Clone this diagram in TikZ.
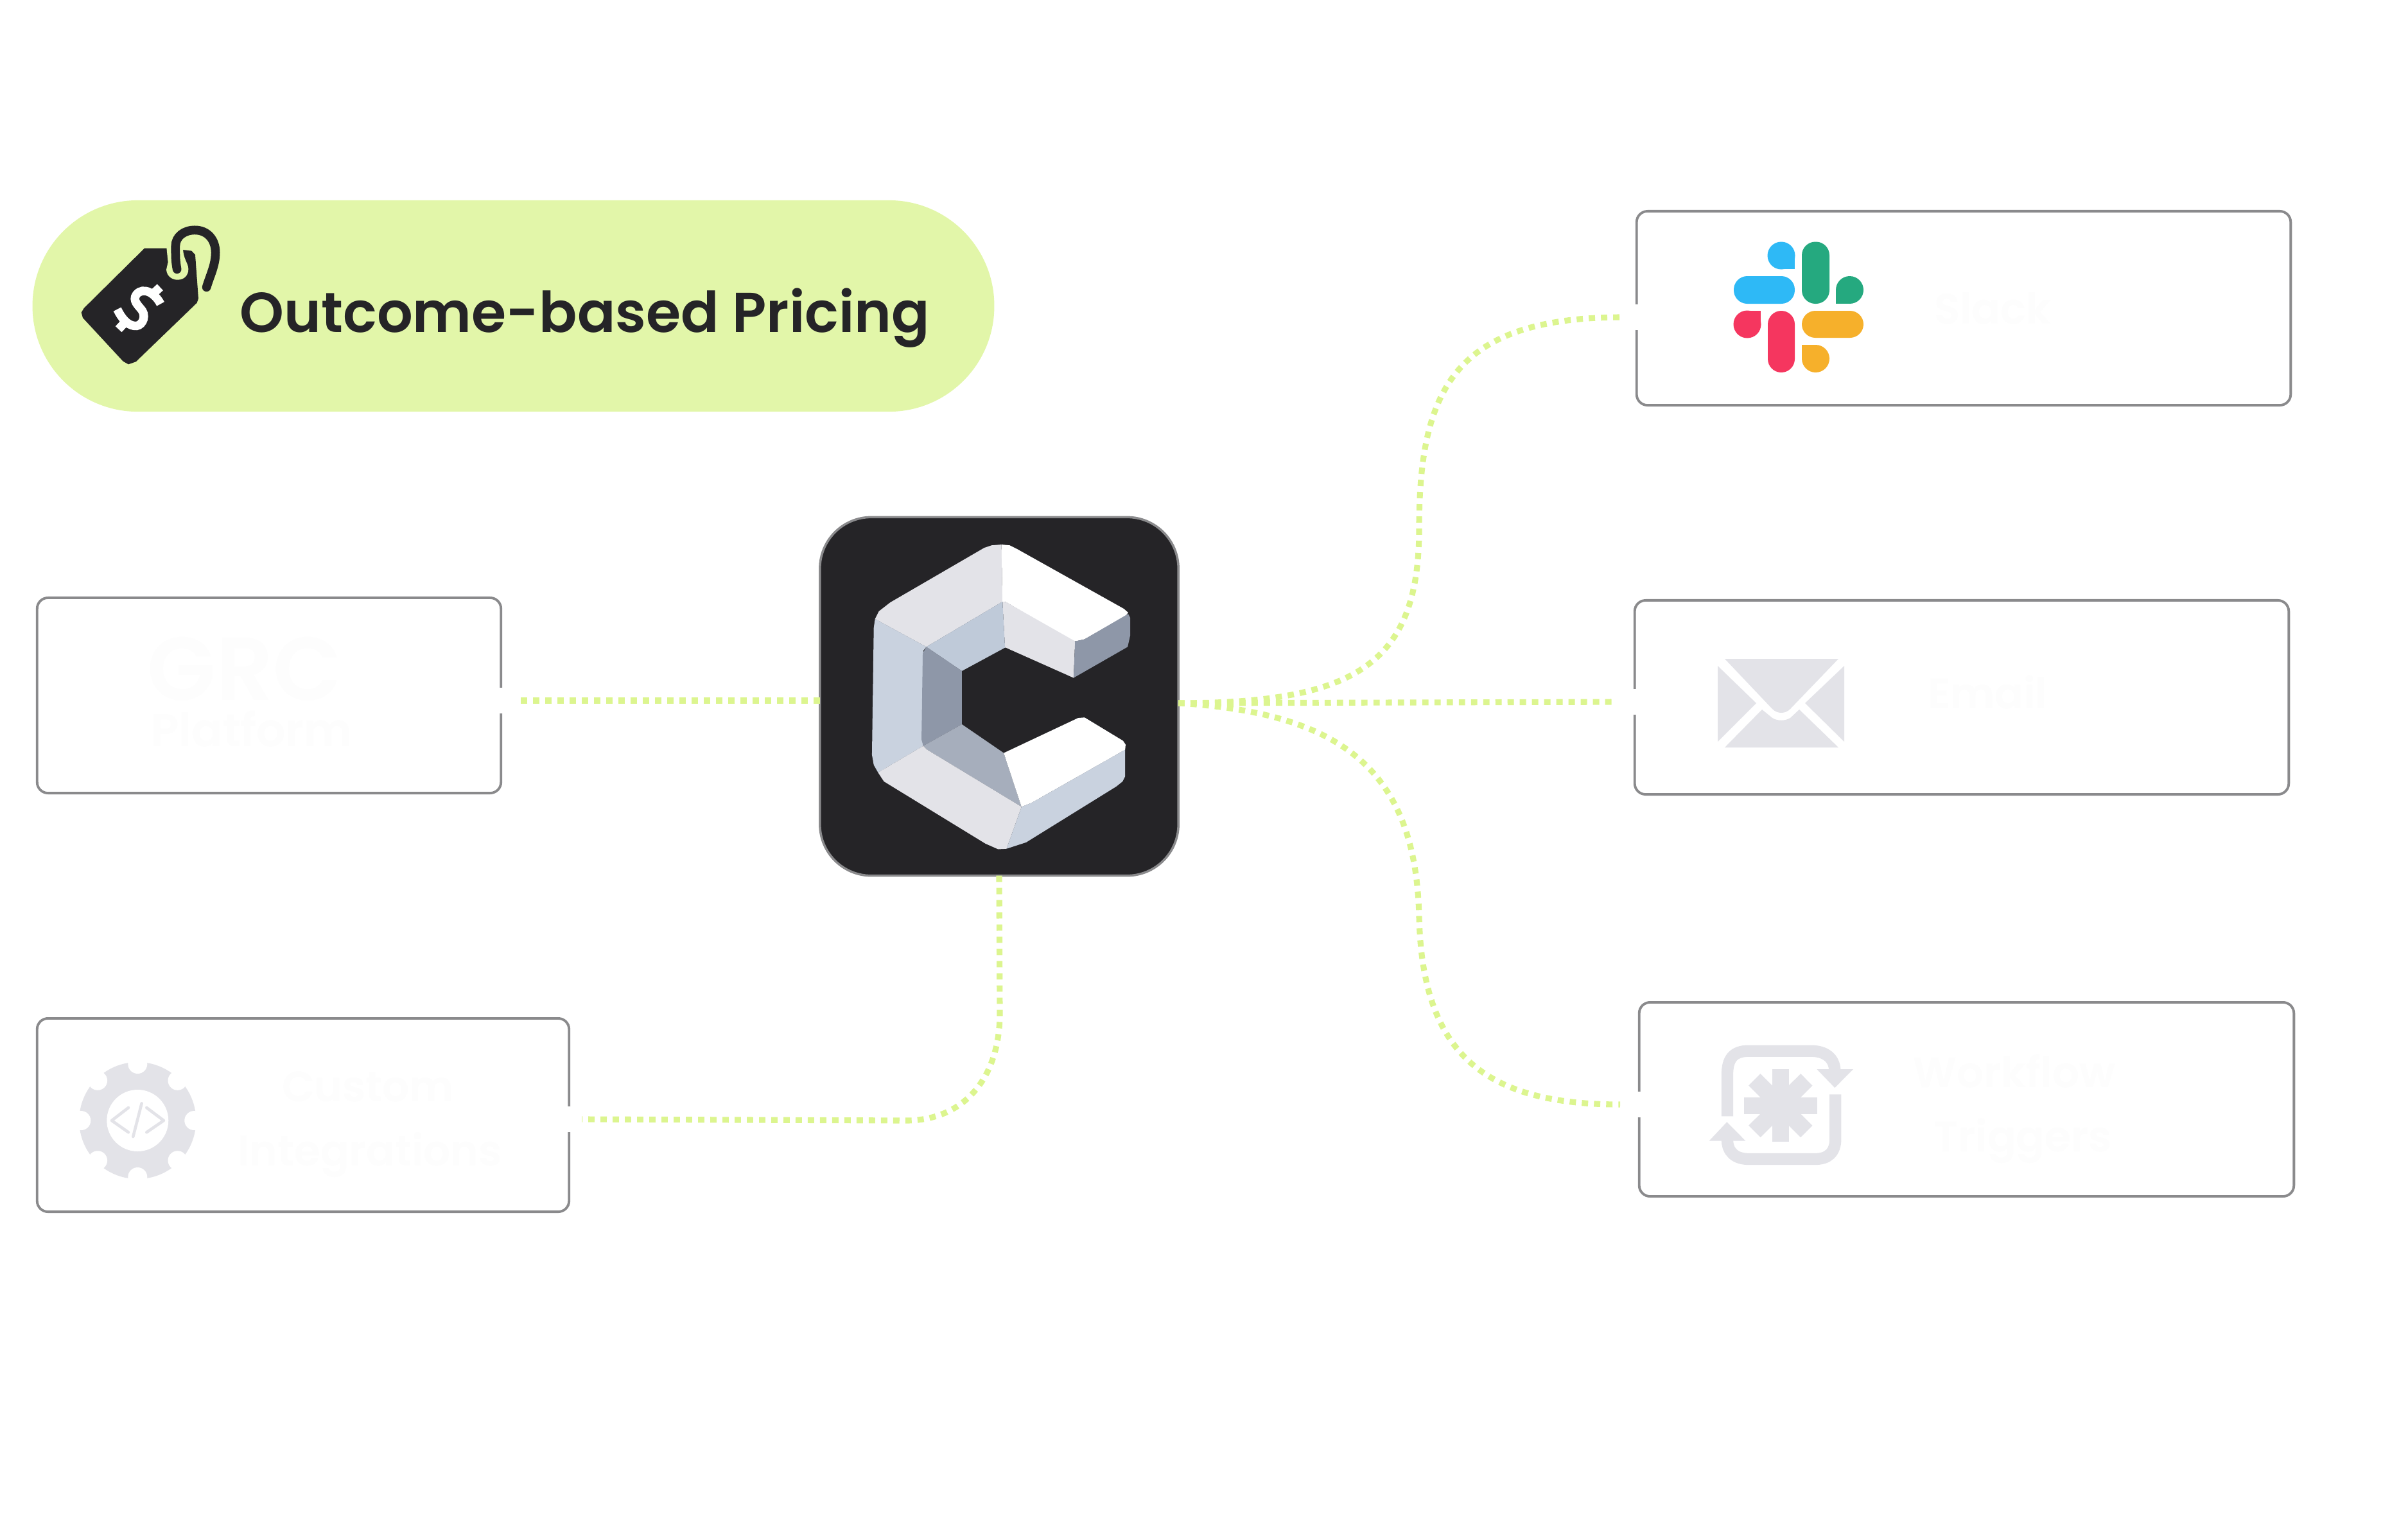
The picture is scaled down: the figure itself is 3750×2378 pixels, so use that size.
\documentclass[tikz,border=0pt]{standalone}
\usepackage{fontspec}
\setmainfont{Poppins}[UprightFont=* Medium,BoldFont=* SemiBold]
\definecolor{pillgreen}{HTML}{E2F6A9}
\definecolor{linkgreen}{HTML}{DCF58F}
\definecolor{inkdark}{HTML}{252427}
\definecolor{panelgray}{HTML}{8A8A8C}
\definecolor{icongray}{HTML}{E3E3E8}
\definecolor{ghosttext}{HTML}{FDFDFD}
\definecolor{logoblue}{HTML}{C9D2DF}
\definecolor{logoblueb}{HTML}{BFCAD9}
\definecolor{logoslate}{HTML}{8E97A8}
\definecolor{logosteel}{HTML}{A6AEBC}
\definecolor{slackblue}{HTML}{2EB9F6}
\definecolor{slackgreen}{HTML}{25A97F}
\definecolor{slackred}{HTML}{F5365F}
\definecolor{slackyellow}{HTML}{F6B02B}
\tikzset{
  panel/.style={draw=panelgray,fill=white,line width=1.1pt,rounded corners=0.17cm,inner sep=0pt,outer sep=0pt},
  port/.style={circle,fill=white,minimum size=0.4cm,inner sep=0pt,outer sep=0pt},
  link/.style={draw=linkgreen,line width=2.6pt,dash pattern=on 2.8pt off 2.6pt},
  bigname/.style={text=ghosttext,anchor=base,inner sep=0pt,font=\bfseries\fontsize{39.5}{40}\selectfont},
  smallname/.style={text=ghosttext,anchor=base,inner sep=0pt,font=\bfseries\fontsize{18.8}{20}\selectfont},
  icon/.style={fill=icongray,draw=none},
  codeline/.style={draw=icongray,line width=1.3pt,line cap=round,line join=round}
}
\begin{document}
\begin{tikzpicture}[x=0.01cm,y=-0.01cm]
        \useasboundingbox (0,0) rectangle (3750,2378);
        \node[fill=pillgreen,rounded corners=1.64cm,minimum width=14.97cm,minimum height=3.29cm,inner sep=0pt] (pricingpill) at (799.5,476.5) {};
        \node[text=inkdark,anchor=base west,inner sep=0pt,font=\bfseries\fontsize{24.9}{26}\selectfont] (pricingtitle) at (373,517) {Outcome-based Pricing};
        \node[fill=inkdark,draw=panelgray,line width=1pt,rounded corners=0.8cm,minimum size=5.58cm,inner sep=0pt,outer sep=0pt] (core) at (1556,1084.5) {};
        \node[panel,minimum width=7.22cm,minimum height=3.04cm] (grcbox) at (419,1083) {};
        \node[panel,minimum width=8.28cm,minimum height=3.01cm] (custombox) at (472,1736.5) {};
        \node[panel,minimum width=10.18cm,minimum height=3.02cm] (slackbox) at (3058,480) {};
        \node[panel,minimum width=10.18cm,minimum height=3.02cm] (emailbox) at (3055,1086) {};
        \node[panel,minimum width=10.19cm,minimum height=3.02cm] (workflowbox) at (3062.5,1712) {};
        \node[port] (grcport) at (780,1091) {};
        \node[port] (customport) at (886,1743) {};
        \node[port] (slackport) at (2549,494) {};
        \node[port] (emailport) at (2546,1093) {};
        \node[port] (workflowport) at (2553,1720) {};
        \node[bigname] (grcname) at (381,1090) {GRC};
        \node[smallname,font=\bfseries\fontsize{20.3}{22}\selectfont] (platformname) at (392,1162) {Platform};
        \node[smallname] (customname) at (573,1715) {Custom};
        \node[smallname] (integrationsname) at (576,1815) {Integrations};
        \node[smallname] (slackname) at (3103,504) {Slack};
        \node[smallname] (emailname) at (3095,1103) {Email};
        \node[smallname] (workflowname) at (3137,1693) {Workflow};
        \node[smallname] (triggersname) at (3150,1793) {Triggers};
        \coordinate (coreleft) at (1277,1091);
        \coordinate (coreright) at (1835,1095);
        \draw[link,shorten >=0.08cm] (coreleft) -- (grcport.east);
        \draw[link] (core.south) -- (1557,1578) .. controls (1557,1680) and (1500,1745) .. (1411,1745) -- (customport.east);
        \draw[link,shorten >=0.1cm] (coreright) -- (emailport.west);
        \draw[link] (coreright) .. controls (2110,1095) and (2210,1035) .. (2210,823) .. controls (2210,600) and (2270,494) .. (slackport.west);
        \draw[link,shorten >=0.1cm] (coreright) .. controls (2090,1110) and (2205,1200) .. (2210,1428) .. controls (2215,1640) and (2310,1720) .. (workflowport.west);
        \begin{scope}[shift={(110,340)},scale=0.3333]
            \fill[inkdark] (345,140)--(448,140)--(525,147)--(565,152)--(582,170)--(597,375)--(590,395)--(305,670)--(270,682)--(245,668)--(57,465)--(50,440)--(62,420)--cycle;
            \fill[pillgreen] (448,135)--(455,205)--(447,240) .. controls (450,275) and (480,288) .. (500,287) .. controls (530,288) and (552,265) .. (550,235) .. controls (548,205) and (525,190) .. (525,135)--cycle;
            \draw[inkdark,line width=3.9pt,line cap=round] (497,238) .. controls (490,200) and (490,180) .. (490,130) .. controls (490,85) and (530,55) .. (580,55) .. controls (640,55) and (677,100) .. (677,160) .. controls (677,220) and (650,270) .. (635,322);
            \draw[white,line width=3.8pt] (420,400) .. controls (395,350) and (340,318) .. (308,355) .. controls (285,385) and (320,410) .. (335,432) .. controls (355,465) and (330,510) .. (295,502) .. controls (265,497) and (240,470) .. (218,425);
            \draw[white,line width=3.8pt] (388,350)--(418,322);
            \draw[white,line width=3.8pt] (252,488)--(224,518);
        \end{scope}
        \begin{scope}[shift={(1250,780)},scale=0.3954]
            \fill[icongray] (783,172)--(745,175)--(715,185)--(345,400)--(300,435)--(285,465)--(487,575)--(787,397)--cycle;
            \fill[white] (783,172)--(815,175)--(845,190)--(1265,425)--(1282,440)--(1270,455)--(1110,545)--(1075,553)--(1050,545)--(800,398)--(787,397)--cycle;
            \fill[icongray] (787,397)--(800,398)--(1073,553)--(1067,697)--(800,578)--(797,578)--cycle;
            \fill[logoslate] (1073,553)--(1110,545)--(1282,445)--(1290,460)--(1290,530)--(1280,575)--(1067,697)--cycle;
            \fill[logoblueb] (487,575)--(787,397)--(797,578)--(627,670)--cycle;
            \fill[logoblue] (285,465)--(487,575)--(475,590)--(470,930)--(475,965)--(297,1070)--(280,1040)--(273,1000)--(280,500)--cycle;
            \fill[logoslate] (487,575)--(627,670)--(627,880)--(475,965)--(468,940)--(473,600)--cycle;
            \fill[logosteel] (627,880)--(792,993)--(862,1205)--(490,980)--(475,965)--cycle;
            \fill[icongray] (297,1070)--(475,965)--(490,980)--(862,1205)--(803,1370)--(770,1372)--(720,1350)--(320,1105)--cycle;
            \fill[white] (792,993)--(1085,855)--(1110,853)--(1130,865)--(1262,945)--(1272,960)--(1270,980)--(900,1190)--(862,1205)--cycle;
            \fill[logoblue] (862,1205)--(900,1190)--(1270,980)--(1270,1085)--(1260,1105)--(1235,1125)--(880,1345)--(803,1370)--cycle;
        \end{scope}
        \fill[slackblue] (2774,398) circle (21.5);
        \fill[slackblue] (2774,398) rectangle (2795,419);
        \fill[slackblue,rounded corners=0.21cm] (2700,430) rectangle (2795,473);
        \fill[slackgreen,rounded corners=0.21cm] (2806,376.5) rectangle (2849,473);
        \fill[slackgreen] (2880.5,451.5) circle (21.5);
        \fill[slackgreen] (2859,451.5) rectangle (2880.5,473);
        \fill[slackred] (2721,505) circle (21.5);
        \fill[slackred] (2721,484) rectangle (2742,505);
        \fill[slackred,rounded corners=0.21cm] (2753,484) rectangle (2795,580);
        \fill[slackyellow,rounded corners=0.21cm] (2806,484) rectangle (2902,526);
        \fill[slackyellow] (2827.5,558.5) circle (21.5);
        \fill[slackyellow] (2806,537) rectangle (2827.5,558.5);
        \fill[icon] (2686,1026)--(2863,1026)--(2788,1104) .. controls (2780,1112) and (2768,1112) .. (2760,1104)--cycle;
        \fill[icon] (2675,1037)--(2735,1095)--(2675,1155)--cycle;
        \fill[icon] (2872,1037)--(2811,1095)--(2872,1155)--cycle;
        \fill[icon] (2686,1164)--(2744,1105)--(2760,1118) .. controls (2768,1123) and (2780,1123) .. (2788,1118)--(2802,1105)--(2863,1164)--cycle;
        \fill[icon] (214.3,1745) circle (91);
        \foreach \a in {0,45,...,315}
            \fill[white] (214.3,1745) ++(\a:88) circle (15);
        \fill[white] (214.3,1745) circle (48);
        \begin{scope}[shift={(100,1630)},scale=0.3333]
            \draw[codeline] (300,285)--(222,345)--(300,400);
            \draw[codeline] (362,265)--(322,420);
            \draw[codeline] (385,285)--(465,345)--(385,400);
        \end{scope}
        \begin{scope}[shift={(2640,1610)},scale=0.3333]
            \draw[draw=icongray,line width=5.2pt] (150,385)--(150,190) .. controls (150,120) and (175,80) .. (250,80)--(540,80) .. controls (610,80) and (650,115) .. (652,170);
            \fill[icon] (568,165)--(738,165)--(652,252)--cycle;
            \draw[draw=icongray,line width=5.2pt] (655,283)--(655,490) .. controls (655,555) and (620,585) .. (560,585)--(250,585) .. controls (185,585) and (150,550) .. (150,495);
            \fill[icon] (65,500)--(235,500)--(148,412)--cycle;
            \draw[draw=icongray,line width=7.4pt] (398,165)--(398,505);
            \draw[draw=icongray,line width=7.4pt] (228,335)--(570,335);
            \draw[draw=icongray,line width=7.4pt] (277,214)--(520,456);
            \draw[draw=icongray,line width=7.4pt] (520,214)--(277,456);
        \end{scope}
\end{tikzpicture}
\end{document}
